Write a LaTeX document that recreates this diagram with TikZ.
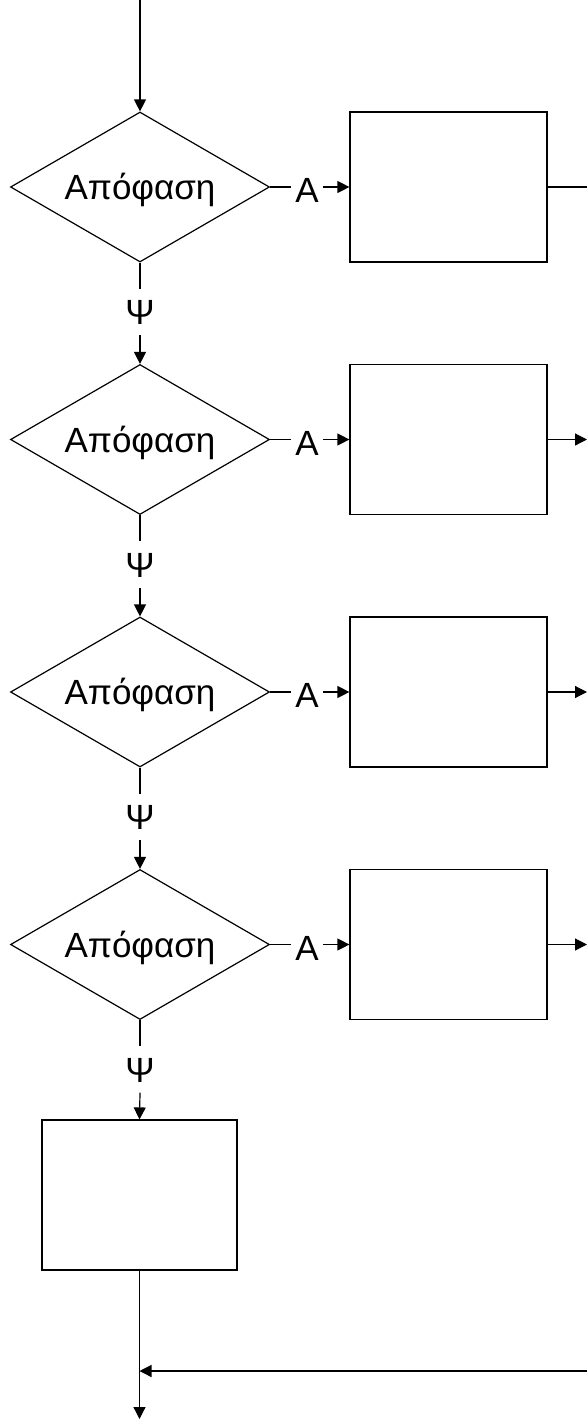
\documentclass[tikz,border=0pt]{standalone}
\usepackage{fontspec}
\setmainfont{Liberation Sans}
\usetikzlibrary{shapes.geometric,arrows.meta}
\begin{document}
\begin{tikzpicture}[x=1pt,y=-1pt,line width=1.2pt,
  every node/.style={font=\fontsize{35}{40}\selectfont},
  decision/.style={draw,shape=diamond,inner sep=0pt,aspect=1.727,minimum width=259pt,minimum height=150pt,text height=25pt,text depth=0pt},
  actbox/.style={draw,rectangle,minimum width=197pt,minimum height=150pt,inner sep=0pt},
  lab/.style={inner xsep=4pt,inner ysep=10pt,text height=25pt,text depth=0pt},
  arr/.style={-{Triangle[length=12pt,width=12pt]}}]
\useasboundingbox (0,0) rectangle (587,1419);
% decisions and boxes
\foreach \i/\y in {1/187,2/439.5,3/692,4/944.5}{
  \node[decision] (d\i) at (140,\y) {Απόφαση};
  \node[actbox] (b\i) at (448.5,\y) {};
  \node[lab] (a\i) at (307,\y+3) {A};
  \coordinate (r\i) at (587,\y);
}
\foreach \i/\y in {1/312,2/564.5,3/817,4/1069.5}{
  \node[lab] (p\i) at (140,\y) {Ψ};
}
\node[actbox,minimum width=195pt] (b5) at (139.5,1195) {};
\coordinate (start) at (140,0);
\coordinate (endpt) at (139.5,1419);
\coordinate (rin) at (587,1371);
\coordinate (join) at (139.5,1371);
% connectors
\draw[arr] (start) -- (d1.north);
\foreach \i in {1,2,3,4}{
  \draw (d\i.east) -- (d\i.east -| a\i.west);
  \draw[arr] (d\i.east -| a\i.east) -- (b\i.west);
  \draw (d\i.south) -- (p\i.north);
}
\draw (b1.east) -- (r1);
\foreach \i in {2,3,4}{ \draw[arr] (b\i.east) -- (r\i); }
\draw[arr] (p1.south) -- (d2.north);
\draw[arr] (p2.south) -- (d3.north);
\draw[arr] (p3.south) -- (d4.north);
\draw[arr] (p4.south) -- (b5.north);
\draw[arr] (b5.south) -- (endpt);
\draw[arr] (rin) -- (join);
\end{tikzpicture}
\end{document}
